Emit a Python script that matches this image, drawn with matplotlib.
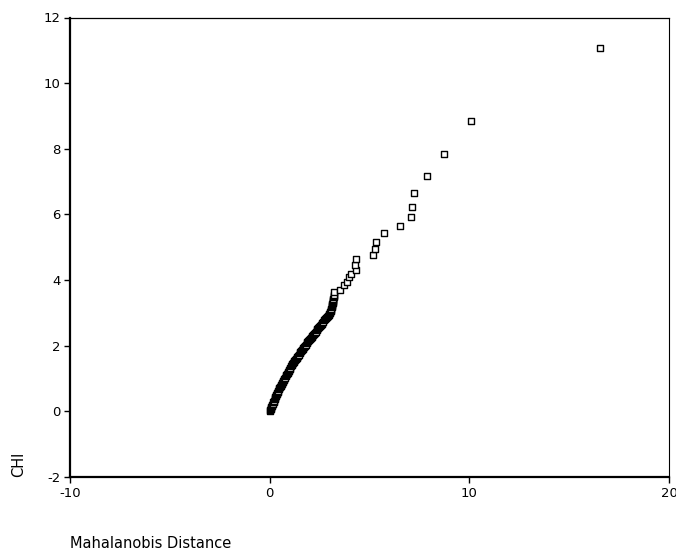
import matplotlib
matplotlib.use("Agg")
import matplotlib.pyplot as plt

# Mahalanobis distance vs chi-square quantile
# dense part near the origin first, then the sparse upper tail
mahal = [0.01, 0.03, 0.05, 0.07, 0.09, 0.12, 0.14, 0.16, 0.18, 0.20, 0.22, 0.25, 0.27, 0.29,
         0.31, 0.33, 0.35, 0.39, 0.41, 0.44, 0.47, 0.49, 0.52, 0.55, 0.58, 0.60, 0.63, 0.66,
         0.68, 0.72, 0.74, 0.77, 0.80, 0.83, 0.86, 0.90, 0.92, 0.95, 0.99, 1.02, 1.04, 1.08,
         1.11, 1.14, 1.17, 1.20, 1.23, 1.28, 1.31, 1.35, 1.39, 1.42, 1.46, 1.50, 1.54, 1.57,
         1.61, 1.65, 1.68, 1.73, 1.76, 1.80, 1.85, 1.89, 1.92, 1.97, 2.01, 2.05, 2.10, 2.14,
         2.18, 2.23, 2.26, 2.30, 2.35, 2.39, 2.43, 2.47, 2.51, 2.55, 2.60, 2.63, 2.67, 2.71,
         2.75, 2.80, 2.88, 2.93, 2.96, 2.99, 3.02, 3.04, 3.05, 3.07, 3.09, 3.11, 3.12, 3.13,
         3.14, 3.15, 3.16, 3.17, 3.18, 3.19, 3.20, 3.21,
         3.21, 3.21, 3.51, 3.74, 3.88, 3.96, 4.09, 4.30, 4.26, 4.33, 5.18, 5.26, 5.33, 5.71,
         6.52, 7.07, 7.15, 7.22, 7.90, 8.74, 10.09, 16.54]
chi = [0.00, 0.03, 0.07, 0.10, 0.13, 0.17, 0.20, 0.23, 0.27, 0.30, 0.33, 0.37, 0.40, 0.43,
       0.47, 0.50, 0.53, 0.57, 0.60, 0.63, 0.67, 0.70, 0.73, 0.77, 0.80, 0.83, 0.87, 0.90,
       0.93, 0.97, 1.00, 1.03, 1.07, 1.10, 1.13, 1.17, 1.20, 1.23, 1.27, 1.30, 1.33, 1.37,
       1.40, 1.43, 1.47, 1.50, 1.53, 1.57, 1.60, 1.63, 1.67, 1.70, 1.73, 1.77, 1.80, 1.83,
       1.87, 1.90, 1.93, 1.97, 2.00, 2.03, 2.07, 2.10, 2.13, 2.17, 2.20, 2.23, 2.27, 2.30,
       2.33, 2.37, 2.40, 2.43, 2.47, 2.50, 2.53, 2.57, 2.60, 2.63, 2.67, 2.70, 2.73, 2.77,
       2.80, 2.83, 2.87, 2.90, 2.93, 2.97, 3.00, 3.03, 3.07, 3.10, 3.13, 3.17, 3.20, 3.23,
       3.27, 3.30, 3.33, 3.37, 3.40, 3.43, 3.47, 3.50,
       3.54, 3.64, 3.71, 3.86, 3.94, 4.09, 4.20, 4.30, 4.45, 4.63, 4.77, 4.96, 5.17, 5.42,
       5.64, 5.91, 6.24, 6.65, 7.16, 7.84, 8.86, 11.07]

x_ticks = [-10, 0, 10, 20]
y_ticks = [-2, 0, 2, 4, 6, 8, 10, 12]

plt.rcParams['font.family'] = ['DejaVu Sans']
plt.rcParams['axes.unicode_minus'] = False

fig = plt.figure(figsize=(6.76, 5.53), dpi=100)
ax = fig.add_axes([70 / 676, 1 - 477 / 553, 599 / 676, 459.5 / 553])

ax.scatter(mahal, chi, marker='s', s=20, facecolor='white', edgecolor='black',
           linewidths=1.0, zorder=3, clip_on=False)

ax.set_xlim(-10, 20)
ax.set_ylim(-2, 12)
ax.set_xticks(x_ticks)
ax.set_yticks(y_ticks)
ax.tick_params(direction='out', length=4, width=1, labelsize=9.5, pad=3,
               top=False, right=False)

ax.spines['left'].set_linewidth(1.6)
ax.spines['bottom'].set_linewidth(1.6)
ax.spines['top'].set_linewidth(0.9)
ax.spines['right'].set_linewidth(0.8)

fig.text(19 / 676, (553 - 477) / 553, 'CHI', rotation=90, ha='center', va='bottom',
         fontsize=10.5)
fig.text(70 / 676, (553 - 543) / 553, 'Mahalanobis Distance', ha='left', va='center',
         fontsize=10.5)

fig.savefig('out.png', dpi=100)
